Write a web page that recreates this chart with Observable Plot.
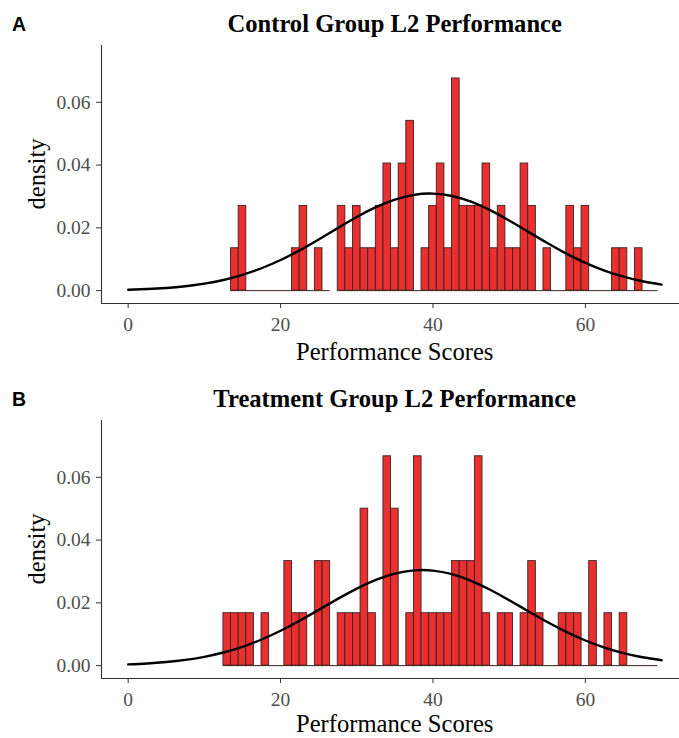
<!DOCTYPE html>
<html>
<head>
<meta charset="utf-8">
<script src="https://cdn.jsdelivr.net/npm/d3@7"></script>
<script src="https://cdn.jsdelivr.net/npm/@observablehq/plot@0.6"></script>
<style>
  html, body { margin: 0; padding: 0; background: #fff; overflow: hidden; }
  #chart { width: 679px; }
  svg { display: block; }
</style>
</head>
<body>
<div id="chart"></div>
<script>
// ---- Data ----
const titleA = "Control Group L2 Performance";
const titleB = "Treatment Group L2 Performance";
const xLabel = "Performance Scores";
const yLabel = "density";

// Panel A: histogram bins (score = bin centre, width 1) and densities
const scoresA = [14, 15, 22, 23, 25, 28, 29, 30, 31, 32, 33, 34, 35, 36, 37, 39, 40, 41, 42, 43, 44, 45, 46, 47, 48, 49, 50, 51, 52, 53, 55, 58, 59, 60, 64, 65, 67];
const densA   = [0.0135, 0.0270, 0.0135, 0.0270, 0.0135, 0.0270, 0.0135, 0.0270, 0.0135, 0.0135, 0.0270, 0.0405, 0.0135, 0.0405, 0.0541, 0.0135, 0.0270, 0.0405, 0.0135, 0.0676, 0.0270, 0.0270, 0.0270, 0.0405, 0.0135, 0.0270, 0.0135, 0.0135, 0.0405, 0.0270, 0.0135, 0.0270, 0.0135, 0.0270, 0.0135, 0.0135, 0.0135];
// empty-bin baseline stretches (bin edges)
const baseA = [[13.5, 26.5], [27.5, 69.5]];

// Panel B
const scoresB = [13, 14, 15, 16, 18, 21, 22, 23, 25, 26, 28, 29, 30, 31, 32, 34, 35, 37, 38, 39, 40, 41, 42, 43, 44, 45, 46, 47, 49, 50, 52, 53, 54, 57, 58, 59, 61, 63, 65];
const densB   = [0.0167, 0.0167, 0.0167, 0.0167, 0.0167, 0.0333, 0.0167, 0.0167, 0.0333, 0.0333, 0.0167, 0.0167, 0.0167, 0.0500, 0.0167, 0.0667, 0.0500, 0.0167, 0.0667, 0.0167, 0.0167, 0.0167, 0.0167, 0.0333, 0.0333, 0.0333, 0.0667, 0.0167, 0.0167, 0.0167, 0.0167, 0.0333, 0.0167, 0.0167, 0.0167, 0.0167, 0.0333, 0.0167, 0.0167];
const baseB = [[12.5, 69.5]];

// Density curves
const curveX = [0, 2.5, 5, 7.5, 10, 12.5, 15, 17.5, 20, 22.5, 25, 27.5, 30, 32.5, 35, 37.5, 40, 42.5, 45, 47.5, 50, 52.5, 55, 57.5, 60, 62.5, 65, 67.5, 70];
const curveA = [0.00028, 0.00050, 0.00085, 0.00140, 0.00222, 0.00340, 0.00502, 0.00713, 0.00975, 0.01284, 0.01630, 0.01992, 0.02345, 0.02658, 0.02902, 0.03052, 0.03091, 0.03016, 0.02833, 0.02564, 0.02235, 0.01876, 0.01516, 0.01181, 0.00886, 0.00640, 0.00445, 0.00298, 0.00192];
const curveB = [0.00040, 0.00068, 0.00114, 0.00182, 0.00281, 0.00418, 0.00601, 0.00832, 0.01111, 0.01431, 0.01776, 0.02127, 0.02455, 0.02732, 0.02932, 0.03034, 0.03028, 0.02913, 0.02702, 0.02417, 0.02085, 0.01734, 0.01391, 0.01075, 0.00801, 0.00577, 0.00400, 0.00267, 0.00172];

const xTicks = [0, 20, 40, 60];
const yTicks = [0, 0.02, 0.04, 0.06];
const xDomain = [-3.5, 72.35];
const yDomain = [-0.0041, 0.0781];

// ---- Drawing ----
const W = 679, H = 375;
const M = {top: 45, right: 0, bottom: 72, left: 101};
const serif = "'Liberation Serif', 'Times New Roman', serif";

function panel(letter, title, scores, dens, base, curveY, xLabelY) {
  const bars = scores.map((s, i) => ({x1: s - 0.5, x2: s + 0.5, y: dens[i]}));
  const baseline = base.map(([a, b]) => ({x1: a, x2: b, y: 0}));
  const curve = curveX.map((x, i) => ({x, y: curveY[i]}));
  const svg = Plot.plot({
    width: W, height: H,
    marginTop: M.top, marginRight: M.right, marginBottom: M.bottom, marginLeft: M.left,
    style: {fontFamily: serif, fontSize: "19.5px", color: "#4d4d4d", background: "#fff", overflow: "visible"},
    x: {domain: xDomain},
    y: {domain: yDomain},
    marks: [
      Plot.ruleY(baseline, {x1: "x1", x2: "x2", y: "y", stroke: "#3a2222", strokeWidth: 1}),
      Plot.rectY(bars, {x1: "x1", x2: "x2", y: "y", fill: "#ea2f2f", stroke: "#3a2222", strokeWidth: 0.9}),
      Plot.line(curve, {x: "x", y: "y", stroke: "#000", strokeWidth: 2.4, curve: "natural"}),
      Plot.ruleX([xDomain[0]], {stroke: "#333", strokeWidth: 1.1}),
      Plot.ruleY([yDomain[0]], {stroke: "#333", strokeWidth: 1.1}),
      Plot.axisX({ticks: xTicks, tickFormat: d => String(d), tickSize: 5, tickPadding: 9, stroke: "#333", label: null}),
      Plot.axisY({ticks: yTicks, tickFormat: d3.format(".2f"), tickSize: 5, tickPadding: 6, stroke: "#333", label: null})
    ]
  });
  const s = d3.select(svg);
  const cx = (M.left + W + 9.4) / 2;
  s.append("text").attr("x", cx).attr("y", 31.5).attr("text-anchor", "middle")
    .style("font-family", serif).style("font-weight", "bold").style("font-size", "24.6px").style("fill", "#000")
    .text(title);
  s.append("text").attr("x", 12).attr("y", 31).attr("text-anchor", "start")
    .style("font-family", "'Liberation Sans', Arial, sans-serif").style("font-weight", "bold").style("font-size", "19.5px").style("fill", "#000")
    .text(letter);
  s.append("text").attr("x", cx).attr("y", xLabelY).attr("text-anchor", "middle")
    .style("font-family", serif).style("font-size", "24.6px").style("fill", "#000")
    .text(xLabel);
  s.append("text").attr("transform", "translate(45,174) rotate(-90)").attr("text-anchor", "middle")
    .style("font-family", serif).style("font-size", "24.6px").style("fill", "#000")
    .text(yLabel);
  return svg;
}

const root = document.getElementById("chart");
root.appendChild(panel("A", titleA, scoresA, densA, baseA, curveA, 359.5));
root.appendChild(panel("B", titleB, scoresB, densB, baseB, curveB, 356.5));
</script>
</body>
</html>
